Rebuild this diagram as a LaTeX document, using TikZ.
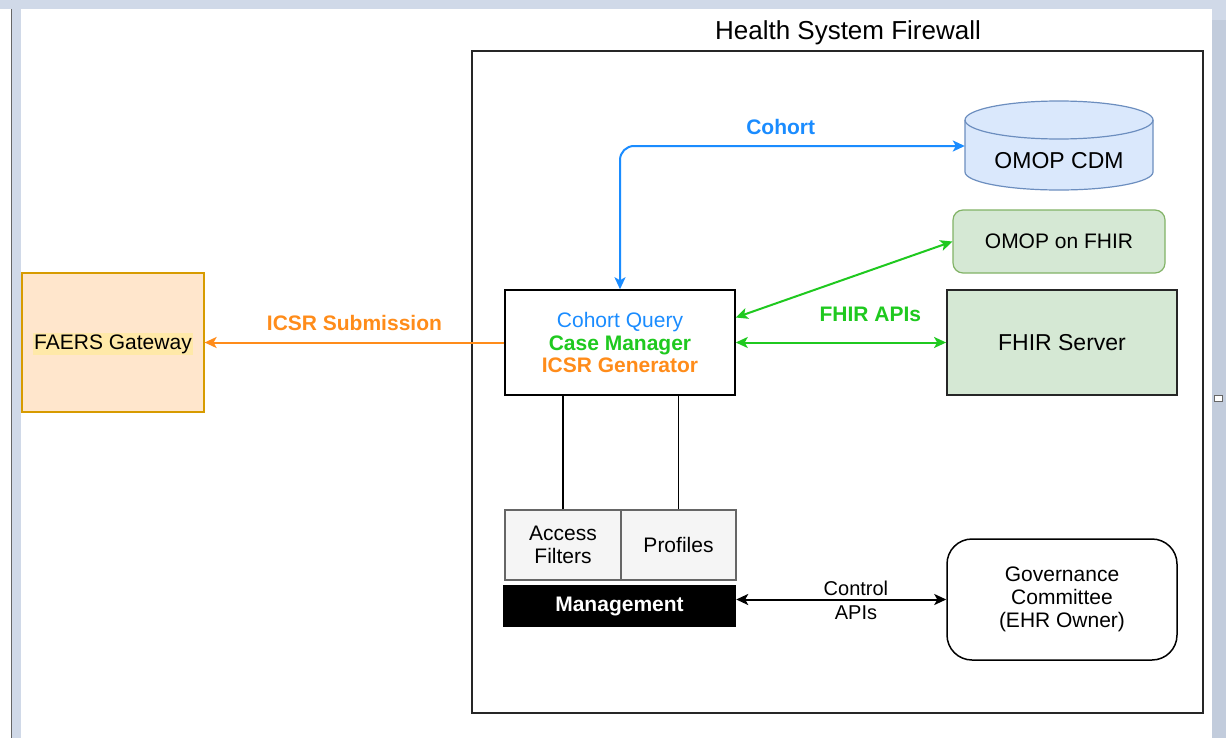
\documentclass[tikz,border=0pt]{standalone}
\usepackage{fontspec}
\setmainfont{Liberation Sans}
\usetikzlibrary{arrows.meta}

\definecolor{frametop}{HTML}{D0D9E8}
\definecolor{frameside}{HTML}{C2CCDC}
\definecolor{faersfill}{HTML}{FFE6CC}
\definecolor{faersline}{HTML}{D79B00}
\definecolor{hilite}{HTML}{FFE9A8}
\definecolor{icsrorange}{HTML}{FF8C1A}
\definecolor{cohortblue}{HTML}{1A8CFF}
\definecolor{fhirgreen}{HTML}{1FC91F}
\definecolor{omopfill}{HTML}{DAE8FC}
\definecolor{omopline}{HTML}{6C8EBF}
\definecolor{fhirfill}{HTML}{D5E8D4}
\definecolor{fhirline}{HTML}{82B366}
\definecolor{boxfill}{HTML}{F5F5F5}
\definecolor{boxline}{HTML}{666666}

\begin{document}
\begin{tikzpicture}[x=1pt, y=-1pt, >={Stealth[length=12pt,width=11pt,inset=3pt]},
    every node/.style={font=\fontsize{21}{22.5}\selectfont, align=center, inner sep=0pt},
    link/.style={line width=2pt},
    plainbox/.style={draw, line width=1.5pt, fill=white},
    subbox/.style={draw=boxline, line width=1.2pt, fill=boxfill, minimum height=70}]
        % Window frame
        \fill[frametop] (0,0) rectangle (1226,738);
        \fill[frameside] (1212,20) rectangle (1226,738);
        \fill[white] (0,9) rectangle (11,738);
        \draw[line width=1pt, black!60] (11.5,9) -- (11.5,738);
        \fill[white] (21,9) rectangle (1212,738);
        \draw[fill=white, draw=black!60, line width=0.8pt] (1214,395) rectangle (1222,401);

        % Firewall
        \draw[line width=1.5pt, black!85] (472,51) rectangle (1203,713);
        \node (title) at (848,33) {\fontsize{26}{30}\selectfont Health System Firewall};

        % Outside
        \node[draw=faersline, fill=faersfill, line width=1.2pt, minimum width=182, minimum height=139] (faers) at (113,342.5) {};
        \node[fill=hilite, inner sep=1.5pt] (faerslabel) at (113,344) {FAERS Gateway};

        % Core service
        \node[plainbox, minimum width=230, minimum height=105] (core) at (620,342.5)
            {\textcolor{cohortblue}{Cohort Query}\\\textcolor{fhirgreen}{\bfseries Case Manager}\\\textcolor{icsrorange}{\bfseries ICSR Generator}};

        % OMOP CDM cylinder
        \filldraw[fill=omopfill, draw=omopline, line width=1.2pt]
            (965,120) -- (965,172) arc[start angle=180, end angle=360, x radius=94pt, y radius=18pt]
            -- (1153,120) arc[start angle=0, end angle=180, x radius=94pt, y radius=19pt] -- cycle;
        \draw[omopline, line width=1.2pt] (965,120) arc[start angle=180, end angle=360, x radius=94pt, y radius=19pt];
        \node[minimum width=188, minimum height=90] (omop) at (1059,146) {};
        \node[font=\fontsize{23}{26}\selectfont] (omoplabel) at (1059,161) {OMOP CDM};

        \node[draw=fhirline, fill=fhirfill, line width=1.2pt, rounded corners=10pt, minimum width=212, minimum height=63] (omopfhir) at (1059,241.5) {OMOP on FHIR};
        \node[draw=black!85, fill=fhirfill, line width=1.8pt, minimum width=230, minimum height=105, font=\fontsize{23}{26}\selectfont] (fhir) at (1062,342.5) {FHIR Server};

        % Management
        \node[subbox, minimum width=116] (filters) at (563,545) {Access\\Filters};
        \node[subbox, minimum width=115] (profiles) at (678.5,545) {Profiles};
        \node[fill=black, text=white, minimum width=233, minimum height=42, font=\fontsize{21}{22.5}\selectfont\bfseries] (mgmt) at (619.5,606) {Management};
        \node[plainbox, rounded corners=25pt, minimum width=230, minimum height=121, font=\fontsize{21}{23}\selectfont] (gov) at (1062,599.5) {Governance\\Committee\\(EHR Owner)};

        % Connectors
        \draw[->, link, icsrorange] (core.west) -- (faers.east)
            node[midway, above=11pt, font=\fontsize{21}{22.5}\selectfont\bfseries] (icsrlbl) {ICSR Submission};
        \draw[<->, link, cohortblue, rounded corners=14pt] (core.north) |- (omop.west)
            node[pos=0.733, above=10pt, font=\fontsize{21}{22.5}\selectfont\bfseries] (cohortlbl) {Cohort};
        \draw[<->, link, fhirgreen] ([yshift=25pt]core.east) -- (omopfhir.west);
        \draw[<->, link, fhirgreen] (core.east) -- (fhir.west)
            node[pos=0.64, above=20pt, font=\fontsize{21}{22.5}\selectfont\bfseries] (apilbl) {FHIR APIs};
        \draw[line width=1.2pt] (filters.north) -- (filters.north |- core.south);
        \draw[line width=1.2pt] (profiles.north) -- (profiles.north |- core.south);
        \draw[<->, link] (mgmt.east |- gov.west) -- (gov.west)
            node[pos=0.57, yshift=-1pt, font=\fontsize{20}{24}\selectfont] (ctrllbl) {Control\\APIs};
\end{tikzpicture}
\end{document}
